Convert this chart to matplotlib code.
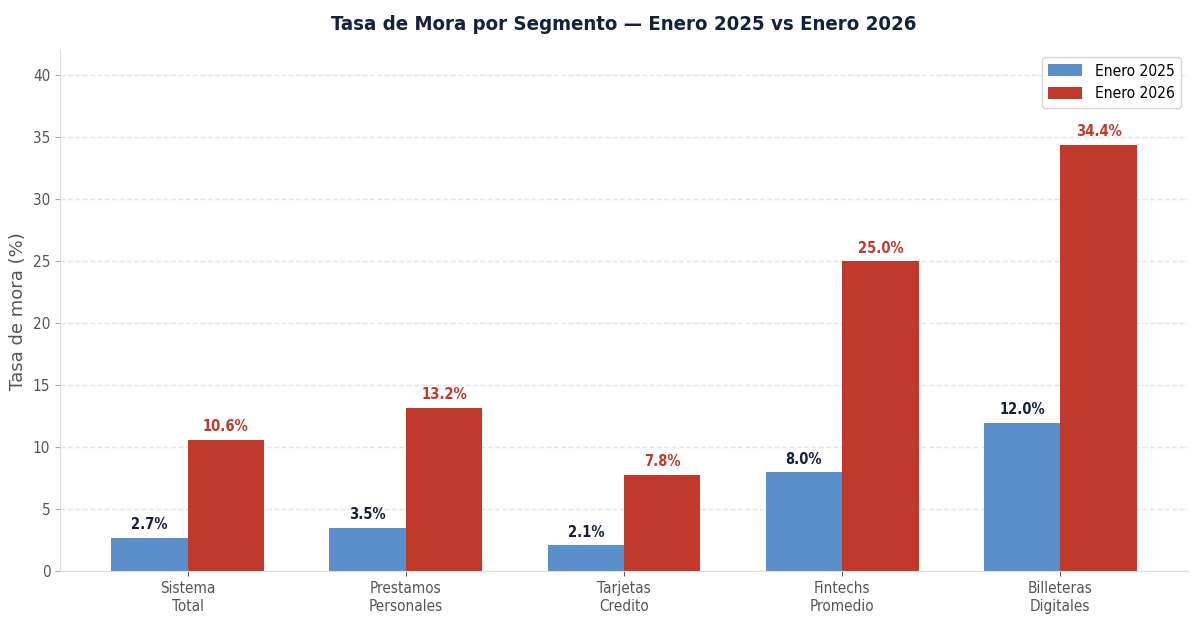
import matplotlib
matplotlib.use('Agg')
import matplotlib.pyplot as plt
import numpy as np

plt.rcParams['font.family'] = 'DejaVu Sans'
plt.rcParams['font.stretch'] = 'condensed'

# Data
segments = ['Sistema\nTotal', 'Prestamos\nPersonales', 'Tarjetas\nCredito',
            'Fintechs\nPromedio', 'Billeteras\nDigitales']
mora_2025 = [2.7, 3.5, 2.1, 8.0, 12.0]
mora_2026 = [10.6, 13.2, 7.8, 25.0, 34.4]

blue = '#5b8fcb'
red = '#c0392b'
navy = '#14213d'

fig, ax = plt.subplots(figsize=(12, 6.3), dpi=100)
fig.subplots_adjust(left=0.05, right=0.99, top=0.92, bottom=0.093)

x = np.arange(len(segments))
w = 0.35
b1 = ax.bar(x - w / 2, mora_2025, w, color=blue, label='Enero 2025')
b2 = ax.bar(x + w / 2, mora_2026, w, color=red, label='Enero 2026')

# value labels above bars
for rect, v in zip(b1, mora_2025):
    ax.annotate(f'{v:.1f}%', (rect.get_x() + rect.get_width() / 2, v),
                xytext=(0, 4), textcoords='offset points', ha='center', va='bottom',
                fontsize=10.5, fontweight='bold', color=navy)
for rect, v in zip(b2, mora_2026):
    ax.annotate(f'{v:.1f}%', (rect.get_x() + rect.get_width() / 2, v),
                xytext=(0, 4), textcoords='offset points', ha='center', va='bottom',
                fontsize=10.5, fontweight='bold', color=red)

ax.set_ylim(0, 42)
ax.set_xticks(x)
ax.set_xticklabels(segments, fontsize=11, color='#555555')
ax.tick_params(axis='y', labelsize=11, labelcolor='#555555', color='#aaaaaa')
ax.tick_params(axis='x', color='#555555')
ax.set_ylabel('Tasa de mora (%)', fontsize=13, color='#555555', fontstretch='normal')
ax.set_title('Tasa de Mora por Segmento — Enero 2025 vs Enero 2026',
             fontsize=14.6, fontweight='bold', color=navy, pad=15)

ax.yaxis.grid(True, linestyle='--', color='#e5e5e5', linewidth=1)
ax.set_axisbelow(True)
for s in ['top', 'right']:
    ax.spines[s].set_visible(False)
for s in ['left', 'bottom']:
    ax.spines[s].set_color('#dddddd')

ax.legend(loc='upper right', fontsize=11.2, frameon=True, edgecolor='#cccccc',
          borderaxespad=0.45, handlelength=2.2, handleheight=0.8,
          bbox_to_anchor=(1.0, 1.0))

fig.savefig('out.png', dpi=100)
